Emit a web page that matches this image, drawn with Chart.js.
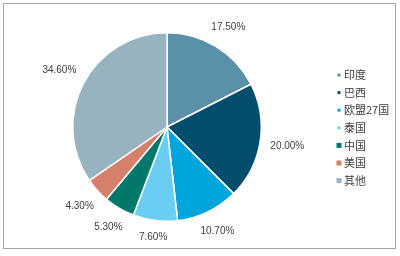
<!DOCTYPE html>
<html>
<head>
<meta charset="utf-8">
<script src="https://cdn.jsdelivr.net/npm/chart.js@4/dist/chart.umd.min.js"></script>
<style>
  html, body { margin: 0; padding: 0; background: #fff; }
  #wrap { position: relative; width: 400px; height: 256px; }
  #frame { position: absolute; left: 3px; top: 3px; width: 393px; height: 246px; border: 1px solid #a6a6a6; box-sizing: border-box; }
  #pie { position: absolute; left: 0; top: 0; }
</style>
</head>
<body>
<div id="wrap">
  <div id="frame"></div>
  <canvas id="pie" width="400" height="256"></canvas>
</div>
<script>
var countries = ['印度', '巴西', '欧盟27国', '泰国', '中国', '美国', '其他'];
var shares = [17.5, 20.0, 10.7, 7.6, 5.3, 4.3, 34.6];
var sliceColors = ['#5b91a8', '#004e6b', '#00a5dc', '#6acdf3', '#00786c', '#d4806a', '#98b3c0'];
// first four legend markers are tiny dots, the last three are bigger squares
var markerSizes = [3, 3, 3, 3, 5, 5, 5];

var pctLabels = {
    id: 'pctLabels',
    afterDatasetsDraw: function (chart) {
        var ctx = chart.ctx;
        var meta = chart.getDatasetMeta(0);
        ctx.save();
        ctx.font = '10px "Liberation Sans", Arial, sans-serif';
        ctx.fillStyle = '#404040';
        ctx.textAlign = 'center';
        ctx.textBaseline = 'middle';
        meta.data.forEach(function (arc, i) {
            var p = arc.getProps(['x', 'y', 'startAngle', 'endAngle', 'outerRadius'], true);
            var mid = (p.startAngle + p.endAngle) / 2;
            var c = Math.cos(mid), s = Math.sin(mid);
            var txt = shares[i].toFixed(2) + '%';
            var w = ctx.measureText(txt).width;
            var d = p.outerRadius + 10 + Math.abs(c) * w / 2 + Math.abs(s) * 5;
            ctx.fillText(txt, p.x + c * d, p.y + s * d);
        });
        ctx.restore();
    }
};

var sideLegend = {
    id: 'sideLegend',
    afterDraw: function (chart) {
        var ctx = chart.ctx;
        ctx.save();
        ctx.font = '11px "Noto Sans CJK SC", sans-serif';
        ctx.textBaseline = 'middle';
        ctx.textAlign = 'left';
        countries.forEach(function (name, i) {
            var y = 75 + i * 17.6;
            var m = markerSizes[i];
            ctx.fillStyle = sliceColors[i];
            ctx.fillRect(339 - m / 2, y - m / 2, m, m);
            ctx.fillStyle = '#404040';
            ctx.fillText(name, 344, y);
        });
        ctx.restore();
    }
};

new Chart(document.getElementById('pie'), {
    type: 'pie',
    data: {
        labels: countries,
        datasets: [{
            data: shares,
            backgroundColor: sliceColors,
            borderColor: '#ffffff',
            borderWidth: 1.5
        }]
    },
    options: {
        responsive: false,
        animation: false,
        layout: { padding: { left: 72, right: 138, top: 32, bottom: 34 } },
        plugins: {
            legend: { display: false },
            tooltip: { enabled: false }
        }
    },
    plugins: [pctLabels, sideLegend]
});
</script>
</body>
</html>
